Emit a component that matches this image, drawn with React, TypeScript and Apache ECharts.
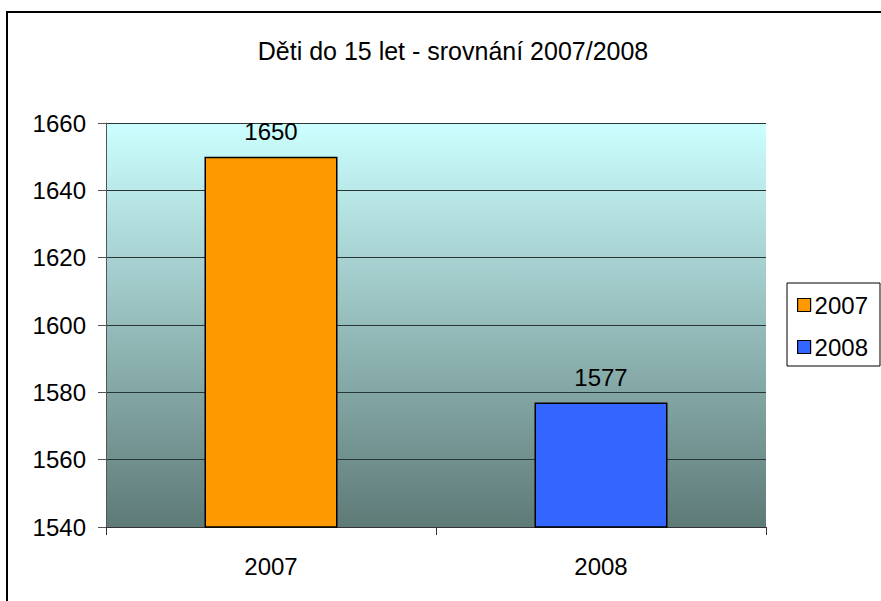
import React, { useEffect, useRef } from "react";
import * as echarts from "echarts";

const categories = ["2007", "2008"];
const seriesNames = ["2007", "2008"];
const values = [1650, 1577];
const colors = ["#FF9900", "#3366FF"];
const yTicks = { min: 1540, max: 1660, interval: 20 };
const titleText = "Děti do 15 let - srovnání 2007/2008";

const FONT = "'Liberation Sans', Arial, sans-serif";

export default function App() {
  const ref = useRef<HTMLDivElement>(null);
  useEffect(() => {
    if (!ref.current) return;
    const chart = echarts.init(ref.current, null, { renderer: "svg" });
    const series = seriesNames.map((name, i) => ({
      name,
      type: "bar",
      barWidth: 133,
      barGap: "-100%",
      data: categories.map((_, j) => (j === i ? values[i] : "-")),
      itemStyle: { color: colors[i], borderColor: "#000", borderWidth: 1.5 },
      label: {
        show: true,
        position: "top",
        distance: 13,
        color: "#000",
        fontSize: 24,
        fontFamily: FONT,
      },
    }));
    chart.setOption({
      animation: false,
      backgroundColor: "#fff",
      title: {
        text: titleText,
        left: 448,
        textAlign: "center",
        top: 33,
        textStyle: { fontSize: 25, fontWeight: "normal", color: "#000", fontFamily: FONT },
      },
      graphic: [
        {
          type: "rect",
          shape: { x: 7, y: 12, width: 900, height: 700 },
          style: { fill: "none", stroke: "#000", lineWidth: 2 },
          silent: true,
        },
      ],
      legend: {
        orient: "vertical",
        left: 787,
        top: 283,
        itemWidth: 13,
        itemHeight: 13,
        itemGap: 18,
        padding: [10, 12, 7, 10],
        borderColor: "#000",
        borderWidth: 1,
        icon: "rect",
        textStyle: { fontSize: 24, color: "#000", fontFamily: FONT, padding: [0, 0, 0, -1] },
        data: seriesNames.map((n, i) => ({
          name: n,
          itemStyle: { color: colors[i], borderColor: "#000", borderWidth: 1.2 },
        })),
      },
      grid: {
        left: 106,
        top: 123,
        right: 115,
        bottom: 74,
        show: true,
        borderWidth: 0,
        backgroundColor: new echarts.graphic.LinearGradient(0, 0, 0, 1, [
          { offset: 0, color: "#CCFFFF" },
          { offset: 1, color: "#5E7A77" },
        ]),
      },
      xAxis: {
        type: "category",
        data: categories,
        axisLine: { show: true, lineStyle: { color: "#333", width: 1 } },
        axisTick: { show: true, length: 8, lineStyle: { color: "#333" } },
        axisLabel: { color: "#000", fontSize: 24, fontFamily: FONT, margin: 27 },
      },
      yAxis: {
        type: "value",
        min: yTicks.min,
        max: yTicks.max,
        interval: yTicks.interval,
        axisLine: { show: true, lineStyle: { color: "#555", width: 1 } },
        axisTick: { show: true, length: 8, lineStyle: { color: "#555" } },
        axisLabel: {
          color: "#000",
          fontSize: 24,
          fontFamily: FONT,
          margin: 20,
          formatter: (v: number) => String(v),
        },
        splitLine: { show: true, lineStyle: { color: "#2a3535", width: 1 } },
      },
      series,
    });
    return () => chart.dispose();
  }, []);
  return (
    <div
      ref={ref}
      style={{ position: "fixed", left: 0, top: 0, width: 881, height: 601 }}
    />
  );
}
